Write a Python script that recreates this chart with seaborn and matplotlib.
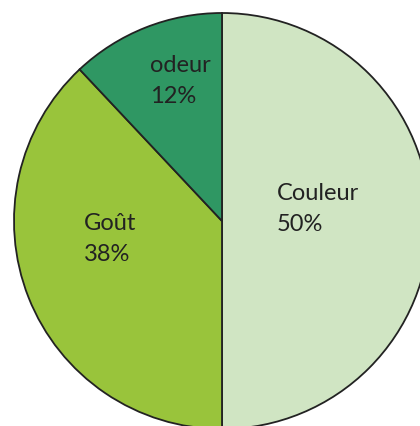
import matplotlib
matplotlib.use('Agg')
import matplotlib.pyplot as plt
import seaborn as sns

sns.set_style('white')
plt.rcParams['font.family'] = ['Lato', 'DejaVu Sans']

# data
categories = ['Couleur', 'Goût', 'odeur']
shares = [50, 38, 12]
colors = ['#d0e5c3', '#99c43b', '#2f9763']

# label anchor points (left edge, vertical centre) in data units
label_pos = [(0.264, 0.058), (-0.663, -0.087), (-0.346, 0.673)]

fig = plt.figure(figsize=(4.2, 4.26), dpi=100)
ax = fig.add_axes([0, 0, 1, 1])

wedges, _ = ax.pie(shares, colors=colors, startangle=90, counterclock=False,
                   radius=1.0,
                   wedgeprops=dict(edgecolor='#222222', linewidth=1.3))

for name, val, (x, y) in zip(categories, shares, label_pos):
    ax.text(x, y, f'{name}\n{val}%', ha='left', va='center',
            fontsize=17, color='#222222', linespacing=1.6)

ax.set_xlim(-1.0673, 0.952)
ax.set_ylim(-0.9856, 1.0625)
ax.set_aspect('auto')
ax.axis('off')

plt.savefig('out.png', dpi=100)
